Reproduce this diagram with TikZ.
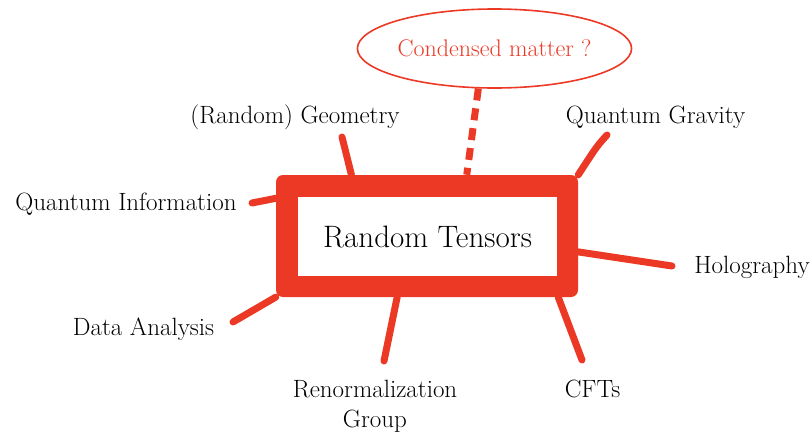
\documentclass[tikz,border=0pt]{standalone}
\usepackage{tikz}
\usetikzlibrary{positioning,shapes.geometric}
\definecolor{mapred}{RGB}{236,57,38}
\tikzset{
  topic/.style={inner sep=0pt,anchor=base,font=\fontsize{25}{30}\selectfont},
  link/.style={mapred,line width=7pt,line cap=round},
}

\begin{document}
\begin{tikzpicture}[x=1pt,y=-1pt]
  \useasboundingbox (0,0) rectangle (811,439);
  % central box: thick red frame around a white panel
  \node[fill=mapred,rounded corners=7pt,minimum width=302pt,minimum height=122pt] (frame) at (427,236) {};
  \node[fill=white,inner sep=0pt,minimum width=259pt,minimum height=79pt,
        font=\fontsize{31}{34}\selectfont] (core) at (427.5,236.5) {Random Tensors};
  \node[ellipse,draw=mapred,line width=1.6pt,text=mapred,inner sep=0pt,
        minimum width=239pt,minimum height=79pt,font=\fontsize{24}{26}\selectfont]
        (cond) at (494.5,48.5) {Condensed matter ?};

  % topics round the box
  \node[topic] (geo)   at (295,123)   {(Random) Geometry};
  \node[topic] (qinfo) at (126,210)   {Quantum Information};
  \node[topic] (qgrav) at (655.5,123) {Quantum Gravity};
  \node[topic] (holo)  at (752,273)   {Holography};
  \node[topic] (data)  at (143.5,335) {Data Analysis};
  \node[topic,anchor=north,align=center] (renorm) at (375,380) {Renormalization\\Group};
  \node[topic] (cfts)  at (592.5,397) {CFTs};

  % free ends of the spokes
  \coordinate (geo-tip)    at (342,137);
  \coordinate (qinfo-tip)  at (252,203);
  \coordinate (qgrav-tip)  at (607,135);
  \coordinate (holo-tip)   at (672,266);
  \coordinate (data-tip)   at (233,322);
  \coordinate (renorm-tip) at (384,361);
  \coordinate (cfts-tip)   at (582,360);

  \draw[link] (geo-tip) -- (frame.141);
  \draw[link] (qinfo-tip) -- (frame.166);
  \draw[link] (qgrav-tip) .. controls (597,146) .. (frame.22);
  \draw[link] (holo-tip) -- (frame.-6);
  \draw[link] (data-tip) -- (frame.202);
  \draw[link] (renorm-tip) -- (frame.244);
  \draw[link] (cfts-tip) -- (frame.-25);
  \draw[mapred,line width=7pt,dash pattern=on 12pt off 8pt] (cond.248) -- (frame.57);
\end{tikzpicture}
\end{document}
